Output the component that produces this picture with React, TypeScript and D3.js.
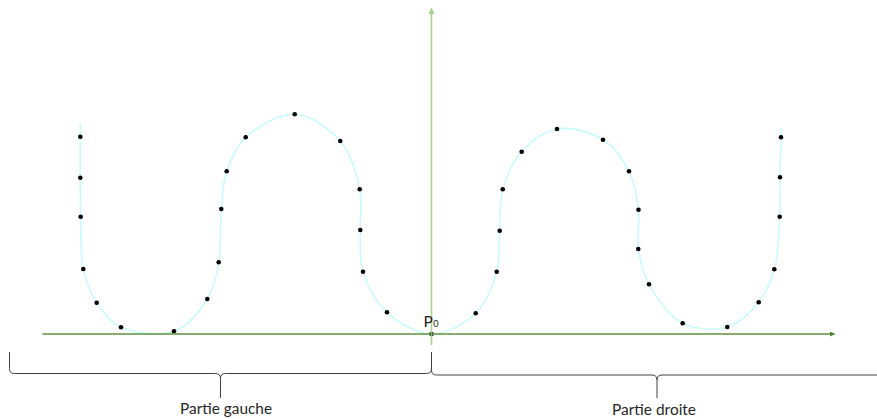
import React from "react";
import * as d3 from "d3";

// Sampled points on the curve (x, y relative to P0; y upward)
const dotX = [-351.2, -351.2, -350.8, -348.2, -334.8, -310.5, -257.5, -224.2, -212.8, -210.2, -204.8, -185.8, -136.8, -91.2, -71.8, -71.2, -68.5, -44.5, 0, 44.2, 65.2, 68.2, 71.2, 90.2, 125.5, 171.5, 197.5, 207, 206.8, 217.5, 251.2, 295.8, 327.2, 342.8, 348.2, 348.5, 349.5];
const dotY = [197.3, 156.3, 117.3, 65, 31.3, 6.7, 2.7, 35, 71.7, 125, 162.8, 196.7, 219.7, 193, 144.7, 104, 62.3, 21.7, 0, 20.8, 62.3, 103.3, 144.7, 182.3, 205, 194.3, 162.8, 124.2, 85, 49.8, 10.7, 7, 31.7, 64.7, 117.3, 156.7, 196.7];
// curve end points (beyond the first/last sample)
const curveStart = [-351.2, 210.7];
const curveEnd = [349.8, 205.7];

// axes extents
const xAxisExtent = [-389, 403];
const yAxisExtent = [-11, 325.5];

// braces: [left, right] in x units
const braceLeft = [-422, 0];
const braceRight = [0, 451];
const labels = ["Partie gauche", "Partie droite"];
const labelX = [-205.5, 222.5];

const W = 877;
const H = 419;

export default function App() {
  const x = d3.scaleLinear().domain([-390, 404]).range([41.5, 835.5]);
  const y = d3.scaleLinear().domain([0, 326]).range([334, 8]);

  const pts: [number, number][] = [
    [curveStart[0], curveStart[1]],
    ...dotX.map((d, i) => [d, dotY[i]] as [number, number]),
    [curveEnd[0], curveEnd[1]],
  ];
  const line = d3
    .line<[number, number]>()
    .x((d) => x(d[0]))
    .y((d) => y(d[1]))
    .curve(d3.curveCatmullRom.alpha(0.5));

  const bracePath = (x0: number, x1: number, yl: number, yt: number, yb: number, r: number) => {
    const xm = (x0 + x1) / 2;
    const p = d3.path();
    p.moveTo(x0, yt);
    p.lineTo(x0, yl - r);
    p.quadraticCurveTo(x0, yl, x0 + r, yl);
    p.lineTo(xm - r, yl);
    p.quadraticCurveTo(xm, yl, xm, yl + r);
    p.lineTo(xm, yb);
    p.moveTo(xm, yl + r);
    p.quadraticCurveTo(xm, yl, xm + r, yl);
    p.lineTo(x1 - r, yl);
    p.quadraticCurveTo(x1, yl, x1, yl - r);
    p.lineTo(x1, yt);
    return p.toString();
  };

  const x0 = x(0);
  const y0 = y(0);

  return (
    <svg width={W} height={H} style={{ position: "absolute", left: 0, top: 0 }} xmlns="http://www.w3.org/2000/svg">
      <defs>
        <marker id="arrH" viewBox="0 0 10 10" refX="9" refY="5" markerWidth="5" markerHeight="5" markerUnits="userSpaceOnUse" orient="auto">
          <path d="M0,0 L10,5 L0,10 z" fill="#4f7f2c" />
        </marker>
        <marker id="arrV" viewBox="0 0 10 10" refX="9" refY="5" markerWidth="6" markerHeight="6" markerUnits="userSpaceOnUse" orient="auto">
          <path d="M0,0 L10,5 L0,10 z" fill="#9fcf86" />
        </marker>
      </defs>
      <rect width={W} height={H} fill="#ffffff" />
      {/* curve */}
      <path d={line(pts) || ""} fill="none" stroke="#c9fbfb" strokeWidth={1.6} />
      {/* dots */}
      {dotX.map((d, i) => (
        <circle key={i} cx={x(d)} cy={y(dotY[i])} r={2.3} fill="#000" />
      ))}
      {/* axes */}
      <line x1={x0} x2={x0} y1={y(yAxisExtent[0])} y2={y(yAxisExtent[1])} stroke="#a9d38f" strokeWidth={1.6} markerEnd="url(#arrV)" />
      <line x1={x(xAxisExtent[0])} x2={x(xAxisExtent[1])} y1={y0} y2={y0} stroke="#5f903c" strokeWidth={1.6} markerEnd="url(#arrH)" />
      {/* P0 label */}
      <text x={x0 - 8} y={y0 - 7.3} fontFamily="Lato, 'Open Sans', sans-serif" fontSize={15.5} fill="#222">
        P<tspan fontSize={9} dx={0.5}>0</tspan>
      </text>
      {/* braces */}
      <path d={bracePath(x(braceLeft[0]), x(braceLeft[1]), y0 + 39.5, y0 + 18, y0 + 64, 5)} fill="none" stroke="#404040" strokeWidth={1} />
      <path d={bracePath(x(braceRight[0]), x(braceRight[1]), y0 + 41, y0 + 18, y0 + 64, 5)} fill="none" stroke="#404040" strokeWidth={1} />
      {labels.map((t, i) => (
        <text
          key={t}
          x={x(labelX[i])}
          y={y0 + 80 + i}
          textAnchor="middle"
          fontFamily="Lato, 'Open Sans', sans-serif"
          fontSize={14.5}
          fill="#262626"
          textLength={i === 0 ? 92 : 84}
          lengthAdjust="spacingAndGlyphs"
        >
          {t}
        </text>
      ))}
    </svg>
  );
}
